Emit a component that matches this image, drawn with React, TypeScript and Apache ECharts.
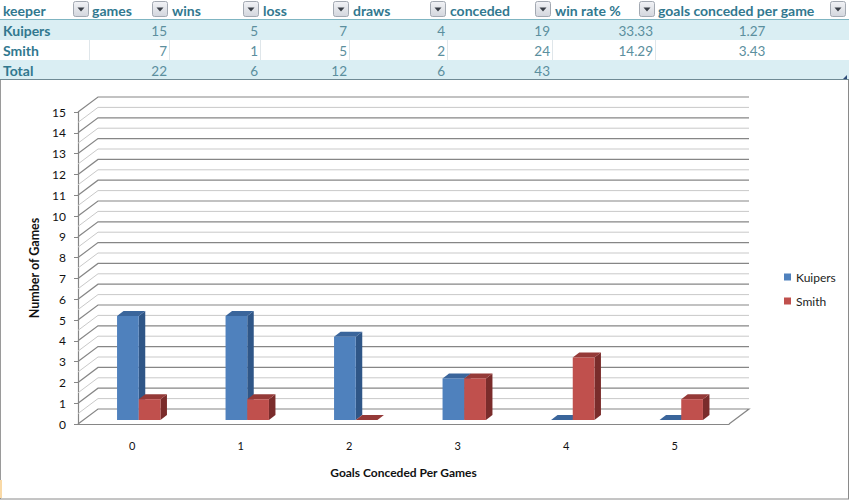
import React, { useEffect, useRef } from "react";
import * as echarts from "echarts";

const categories = ["0", "1", "2", "3", "4", "5"];
const kuipers = [5, 5, 4, 2, 0, 0];
const smith = [1, 1, 0, 2, 3, 1];
const gridLevels = [0, 0.5, 1, 1.5, 2, 2.5, 3, 3.5, 4, 4.5, 5, 5.5, 6, 6.5, 7, 7.5, 8, 8.5, 9, 9.5, 10, 10.5, 11, 11.5, 12, 12.5, 13, 13.5, 14, 14.5, 15];

const tableHeaders = ["keeper", "games", "wins", "loss", "draws", "conceded", "win rate %", "goals conceded per game"];
const rowKuipers = ["Kuipers", "15", "5", "7", "4", "19", "33.33", "1.27"];
const rowSmith = ["Smith", "7", "1", "5", "2", "24", "14.29", "3.43"];
const rowTotal = ["Total", "22", "6", "12", "6", "43", "", ""];
const tableRows = [rowKuipers, rowSmith, rowTotal];

const headerX = [3, 92, 172, 263, 353, 450, 555, 658];
const cellX = [3, 167, 258, 347, 445, 550, 653, 752];
const filterX = [73, 152, 243, 333, 430, 535, 639, 830];
const rowDividers = [89, 169, 260, 349, 447, 552, 655];

const FONT = "Lato, Carlito, 'Noto Sans', sans-serif";
const TEAL = "#31788f";
const TEAL_LIGHT = "#5b8f9e";
const GRID_MAJOR = "#868686";
const GRID_MINOR = "#c9c9c9";
const DEPTH_X = 20;
const DEPTH_Y = 15;
const BAR_W = 21.7;
const BAR_OFFSET_X = 6.5;
const BAR_OFFSET_Y = 4;
const BAR_DEPTH_X = 6.5;
const BAR_DEPTH_Y = 5;

function tableGraphics(): any[] {
  const out: any[] = [];
  out.push({ type: "rect", shape: { x: 0, y: 20, width: 849, height: 20 }, style: { fill: "#daeef3" }, z: 1 });
  out.push({ type: "rect", shape: { x: 0, y: 60, width: 849, height: 19 }, style: { fill: "#daeef3" }, z: 1 });
  out.push({ type: "line", shape: { x1: 0, y1: 19.5, x2: 849, y2: 19.5 }, style: { stroke: "#7fb5c2", lineWidth: 1 }, z: 2 });
  out.push({ type: "line", shape: { x1: 0, y1: 79.5, x2: 849, y2: 79.5 }, style: { stroke: "#6f8a94", lineWidth: 1 }, z: 2 });
  rowDividers.forEach((x) => {
    out.push({ type: "line", shape: { x1: x + 0.5, y1: 40, x2: x + 0.5, y2: 60 }, style: { stroke: "#dfe6ea", lineWidth: 1 }, z: 2 });
  });
  tableHeaders.forEach((h, i) => {
    out.push({
      type: "text", z: 3,
      style: { text: h, x: headerX[i], y: 10.5, fill: TEAL, font: `bold 14px ${FONT}`, textAlign: "left", textVerticalAlign: "middle" },
    });
  });
  filterX.forEach((x) => {
    out.push({
      type: "rect", z: 3,
      shape: { x: x + 0.5, y: 1.5, width: 15, height: 15, r: 2 },
      style: {
        stroke: "#a3a9b2", lineWidth: 1,
        fill: new echarts.graphic.LinearGradient(0, 0, 0, 1, [
          { offset: 0, color: "#f2f3f6" },
          { offset: 1, color: "#d3d6dd" },
        ]),
      },
    });
    out.push({
      type: "polygon", z: 4,
      shape: { points: [[x + 4.5, 7.5], [x + 11.5, 7.5], [x + 8, 11.5]] },
      style: { fill: "#3a3f47" },
    });
  });
  tableRows.forEach((row, r) => {
    const y = 30.5 + r * 20;
    row.forEach((v, c) => {
      if (!v) return;
      out.push({
        type: "text", z: 3,
        style: {
          text: v, x: cellX[c], y,
          fill: c === 0 ? TEAL : TEAL_LIGHT,
          font: c === 0 ? `bold 14px ${FONT}` : `13.5px ${FONT}`,
          textAlign: c === 0 ? "left" : c === 7 ? "center" : "right",
          textVerticalAlign: "middle",
        },
      });
    });
  });
  // resize handle at the table corner
  out.push({ type: "polygon", z: 4, shape: { points: [[847, 75], [847, 79], [843, 79]] }, style: { fill: "#2f4d7a" } });
  // chart frame
  out.push({ type: "line", z: 2, shape: { x1: 0.5, y1: 80, x2: 0.5, y2: 499 }, style: { stroke: "#9a9a9a", lineWidth: 1 } });
  out.push({ type: "line", z: 2, shape: { x1: 848.5, y1: 80, x2: 848.5, y2: 499 }, style: { stroke: "#8a8a8a", lineWidth: 1 } });
  out.push({ type: "line", z: 2, shape: { x1: 0, y1: 499, x2: 849, y2: 499 }, style: { stroke: "#8a8a8a", lineWidth: 1 } });
  out.push({ type: "rect", z: 2, shape: { x: 0, y: 480, width: 2, height: 18 }, style: { fill: "#f9d9a6" } });
  return out;
}

const wallRenderItem = (params: any, api: any) => {
  const level = api.value(0);
  const cs = params.coordSys;
  const y = api.coord([0, level])[1];
  const major = Number.isInteger(level);
  const style = { stroke: major ? GRID_MAJOR : GRID_MINOR, lineWidth: major ? 1.2 : 1, fill: "none" };
  const pts: number[][] = level === 0
    ? [[cs.x + cs.width, y], [cs.x + cs.width + DEPTH_X, y - DEPTH_Y], [cs.x + DEPTH_X, y - DEPTH_Y], [cs.x, y]]
    : [[cs.x, y], [cs.x + DEPTH_X, y - DEPTH_Y], [cs.x + cs.width + DEPTH_X, y - DEPTH_Y]];
  return { type: "polyline", shape: { points: pts }, style, silent: true };
};

const barRenderer = (slot: number, front: string, top: string, side: string) => (_: any, api: any) => {
  const base = api.coord([api.value(0), 0]);
  const head = api.coord([api.value(0), api.value(1)]);
  const x0 = base[0] + BAR_OFFSET_X + (slot - 1) * BAR_W;
  const x1 = x0 + BAR_W;
  const yb = base[1] - BAR_OFFSET_Y;
  const yt = head[1] - BAR_OFFSET_Y;
  const dx = BAR_DEPTH_X;
  const dy = BAR_DEPTH_Y;
  return {
    type: "group",
    children: [
      { type: "polygon", shape: { points: [[x1, yb], [x1 + dx, yb - dy], [x1 + dx, yt - dy], [x1, yt]] }, style: { fill: side } },
      { type: "polygon", shape: { points: [[x0, yt], [x0 + dx, yt - dy], [x1 + dx, yt - dy], [x1, yt]] }, style: { fill: top } },
      { type: "rect", shape: { x: x0, y: yt, width: BAR_W, height: yb - yt }, style: { fill: front } },
    ],
  };
};

export default function App() {
  const ref = useRef<HTMLDivElement>(null);
  useEffect(() => {
    const chart = echarts.init(ref.current!, undefined, { renderer: "svg" });
    chart.setOption({
      animation: false,
      backgroundColor: "#ffffff",
      textStyle: { fontFamily: FONT },
      graphic: { elements: tableGraphics() },
      grid: { left: 78, right: 120, top: 112, bottom: 76 },
      legend: {
        data: ["Kuipers", "Smith"],
        orient: "vertical",
        left: 784,
        top: 271,
        padding: 0,
        itemWidth: 7,
        itemHeight: 7,
        itemGap: 12,
        icon: "rect",
        textStyle: { fontFamily: FONT, fontSize: 12, color: "#222" },
      },
      xAxis: {
        type: "category",
        data: categories,
        axisLine: { show: true, lineStyle: { color: GRID_MAJOR, width: 1.2 } },
        axisTick: { show: false },
        axisLabel: { margin: 16, fontSize: 11, color: "#111", fontFamily: FONT },
        name: "Goals Conceded Per Games",
        nameLocation: "middle",
        nameGap: 42,
        nameTextStyle: { fontFamily: FONT, fontWeight: "bold", fontSize: 12, color: "#111" },
        splitLine: { show: false },
      },
      yAxis: {
        type: "value",
        min: 0,
        max: 15,
        interval: 1,
        axisLine: { show: true, lineStyle: { color: GRID_MAJOR, width: 1.2 } },
        axisTick: { show: true, length: 4, lineStyle: { color: GRID_MAJOR } },
        axisLabel: { margin: 12, fontSize: 12, color: "#111", fontFamily: FONT },
        name: "Number of Games",
        nameLocation: "middle",
        nameGap: 37,
        nameTextStyle: { fontFamily: FONT, fontWeight: "bold", fontSize: 12.5, color: "#111" },
        splitLine: { show: false },
      },
      series: [
        {
          name: "walls",
          type: "custom",
          clip: false,
          silent: true,
          z: 1,
          encode: { x: 1, y: 0 },
          data: gridLevels.map((l) => [l, 0]),
          renderItem: (params: any, api: any) => wallRenderItem(params, api),
        },
        {
          name: "Kuipers",
          type: "custom",
          clip: false,
          z: 2,
          encode: { x: 0, y: 1 },
          itemStyle: { color: "#4f81bd" },
          data: kuipers.map((v, i) => [i, v]),
          renderItem: barRenderer(0, "#4f81bd", "#3a659b", "#2f5687"),
        },
        {
          name: "Smith",
          type: "custom",
          clip: false,
          z: 3,
          encode: { x: 0, y: 1 },
          itemStyle: { color: "#c0504d" },
          data: smith.map((v, i) => [i, v]),
          renderItem: barRenderer(1, "#c0504d", "#953a38", "#7a2c2b"),
        },
      ],
    });
    return () => chart.dispose();
  }, []);
  return <div ref={ref} style={{ position: "absolute", left: 0, top: 0, width: 849, height: 500 }} />;
}
